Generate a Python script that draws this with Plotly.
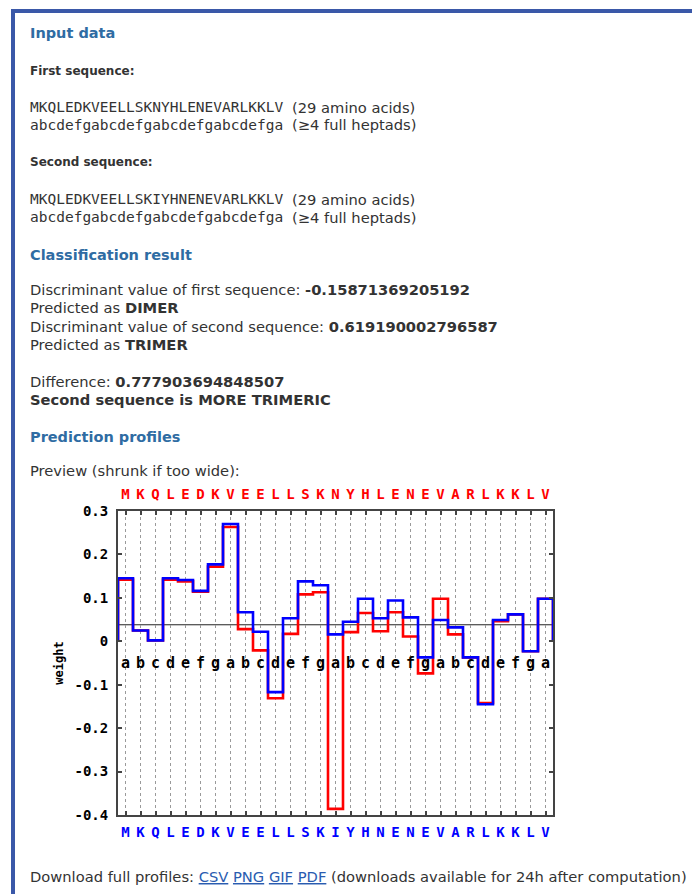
import plotly.graph_objects as go

# ---------------- data ----------------
seq1 = list("MKQLEDKVEELLSKNYHLENEVARLKKLV")
seq2 = list("MKQLEDKVEELLSKIYHNENEVARLKKLV")
heptad = list("abcdefgabcdefgabcdefgabcdefga")
positions = list(range(1, 30))

weights1 = [0.142, 0.025, 0.002, 0.142, 0.138, 0.114, 0.172, 0.263, 0.028, -0.021,
            -0.131, 0.017, 0.108, 0.113, -0.386, 0.021, 0.065, 0.023, 0.067, 0.011,
            -0.074, 0.098, 0.016, -0.037, -0.142, 0.046, 0.062, -0.023, 0.098]
weights2 = [0.145, 0.025, 0.002, 0.145, 0.141, 0.116, 0.177, 0.270, 0.067, 0.022,
            -0.117, 0.053, 0.138, 0.129, 0.016, 0.045, 0.098, 0.053, 0.094, 0.055,
            -0.037, 0.049, 0.032, -0.037, -0.145, 0.049, 0.062, -0.023, 0.098]
threshold = 0.038

ytick_vals = [0.3, 0.2, 0.1, 0, -0.1, -0.2, -0.3, -0.4]
ytick_text = ["0.3", "0.2", "0.1", "0", "-0.1", "-0.2", "-0.3", "-0.4"]

# ---------------- geometry (page offset of 8px from body margin) ----------------
OFF = 8
W, H = 700 - OFF, 894 - OFF
L, T = 118 - OFF, 511 - OFF
R, B = W - (553 - OFF), H - (815 - OFF)
PW, PH = W - L - R, H - T - B


def px(x):
    return (x - OFF - L) / PW


def py(y):
    return (H - B - (y - OFF)) / PH


MONO = "DejaVu Sans Mono"
SANS = "DejaVu Sans"
TXT = "#333333"
HEAD = "#2f6ca3"
BORDER = "#3a58a8"


def step(vals):
    xs = [positions[0] - 0.5] + [p - 0.5 for p in positions] + [positions[-1] + 0.5]
    ys = [0] + list(vals) + [0]
    return xs, ys


fig = go.Figure()
x1, y1 = step(weights1)
x2, y2 = step(weights2)
fig.add_trace(go.Scatter(x=x1, y=y1, mode="lines", line=dict(color="#ff0000", width=2.6, shape="hv"),
                         hoverinfo="skip", showlegend=False))
fig.add_trace(go.Scatter(x=x2, y=y2, mode="lines", line=dict(color="#0000ff", width=2.6, shape="hv"),
                         hoverinfo="skip", showlegend=False))
HEPTAD_Y = -0.054
fig.add_trace(go.Scatter(x=positions, y=[HEPTAD_Y] * len(positions), xaxis="x2", yaxis="y",
                         mode="text", text=heptad,
                         textfont=dict(family=MONO, size=15, color="#000000", weight="bold"),
                         hoverinfo="skip", showlegend=False))

fig.add_shape(type="line", xref="paper", yref="y", x0=0, x1=1, y0=threshold, y1=threshold,
              line=dict(color="#222222", width=1), layer="below")

# page borders
fig.add_shape(type="rect", xref="paper", yref="paper", x0=px(11), x1=px(15), y0=py(900), y1=py(9),
              fillcolor=BORDER, line=dict(width=0))
fig.add_shape(type="rect", xref="paper", yref="paper", x0=px(11), x1=px(705), y0=py(13), y1=py(9),
              fillcolor=BORDER, line=dict(width=0))

ann = []
X0 = 28


def text(x, y, s, size=14.7, family=SANS, color=TXT, bold=False):
    ann.append(dict(x=px(x), y=py(y), xref="paper", yref="paper", xanchor="left", yanchor="middle",
                    text=("<b>%s</b>" % s) if bold else s, showarrow=False,
                    font=dict(family=family, size=size, color=color)))


text(X0, 33, "Input data", size=14.5, color=HEAD, bold=True)
text(X0, 71, "First sequence:", size=12, bold=True)
text(X0, 107, "".join(seq1), size=14.5, family=MONO)
text(290, 107, "(29 amino acids)")
text(X0, 125, "".join(heptad), size=14.5, family=MONO)
text(290, 125, "(≥4 full heptads)")
text(X0, 162, "Second sequence:", size=12, bold=True)
text(X0, 199, "".join(seq2), size=14.5, family=MONO)
text(290, 199, "(29 amino acids)")
text(X0, 217, "".join(heptad), size=14.5, family=MONO)
text(290, 217, "(≥4 full heptads)")
text(X0, 255, "Classification result", size=14.5, color=HEAD, bold=True)
text(X0, 289, "Discriminant value of first sequence: <b>-0.15871369205192</b>")
text(X0, 307, "Predicted as <b>DIMER</b>")
text(X0, 326, "Discriminant value of second sequence: <b>0.619190002796587</b>")
text(X0, 344, "Predicted as <b>TRIMER</b>")
text(X0, 381, "Difference: <b>0.777903694848507</b>")
text(X0, 399, "Second sequence is MORE TRIMERIC", bold=True)
text(X0, 437, "Prediction profiles", size=14.5, color=HEAD, bold=True)
text(X0, 470, "Preview (shrunk if too wide):")
LINK = "#2a5cb0"
text(X0, 876, "Download full profiles: "
     + " ".join("<span style='color:%s'><u>%s</u></span>" % (LINK, f) for f in ["CSV", "PNG", "GIF", "PDF"])
     + " (downloads available for 24h after computation)")

axis_col = "#444444"
tickfont_common = dict(family=MONO, size=14, weight="bold")

fig.update_layout(
    width=W, height=H,
    margin=dict(l=L, r=R, t=T, b=B, pad=0),
    paper_bgcolor="white", plot_bgcolor="white",
    showlegend=False, hovermode=False,
    annotations=ann,
    xaxis=dict(range=[0.5, 29.5], tickmode="array", tickvals=positions, ticktext=seq2,
               tickfont=dict(color="#0000ff", **tickfont_common),
               ticks="inside", ticklen=4, tickcolor=axis_col, tickwidth=1.5,
               showline=True, linecolor=axis_col, linewidth=2, mirror="ticks",
               showgrid=True, gridcolor="#9a9a9a", griddash="dot", gridwidth=1,
               zeroline=False, ticklabelstandoff=3, fixedrange=True),
    xaxis2=dict(range=[0.5, 29.5], overlaying="x", side="top", tickmode="array", tickvals=positions,
                ticktext=seq1, tickfont=dict(color="#ff0000", **tickfont_common),
                ticks="", showline=False, showgrid=False, zeroline=False, ticklabelstandoff=8,
                fixedrange=True),
    yaxis=dict(range=[-0.4, 0.3], tickmode="array", tickvals=ytick_vals, ticktext=ytick_text,
               tickfont=dict(color="#000000", **tickfont_common),
               ticks="inside", ticklen=4, tickcolor=axis_col, tickwidth=1.5,
               showline=True, linecolor=axis_col, linewidth=2, mirror="ticks",
               showgrid=False, zeroline=False, ticklabelstandoff=5,
               title=dict(text="weight", font=dict(family=MONO, size=12, color="#000000", weight="bold"),
                          standoff=8),
               fixedrange=True),
)

fig.write_html("out.html")
